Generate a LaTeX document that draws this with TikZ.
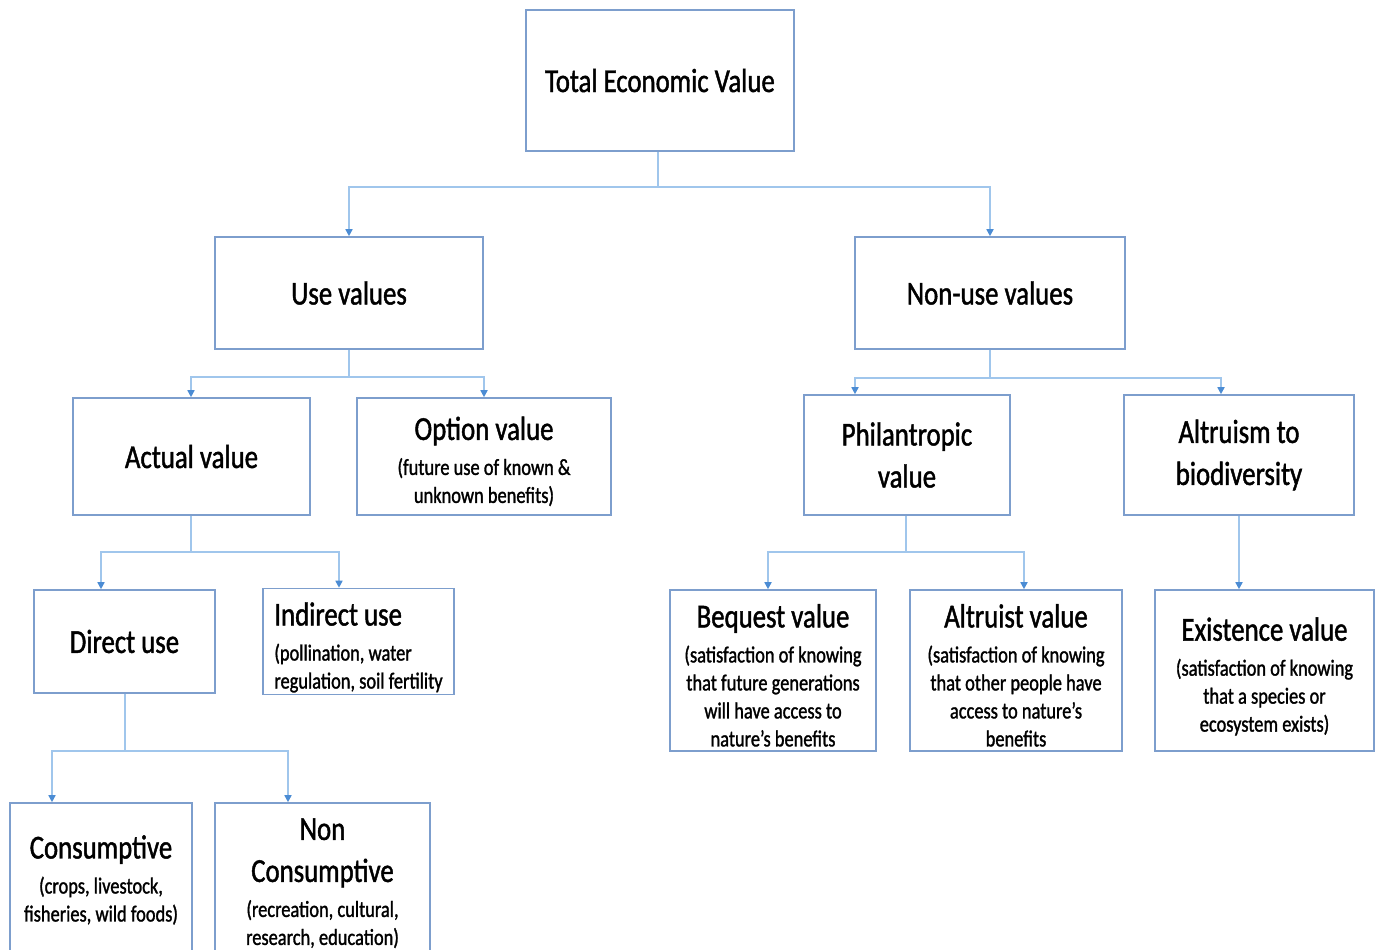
\documentclass[tikz,border=0pt]{standalone}
\usepackage{fontspec}
\setmainfont{Carlito}[FakeStretch=0.8, FakeBold=1.3]
\usetikzlibrary{arrows.meta}
\definecolor{boxc}{RGB}{125,158,205}
\definecolor{linec}{RGB}{160,198,236}
\definecolor{arrc}{RGB}{75,140,212}
\newcommand\mainf{\fontsize{33.5}{42}\selectfont}
\newcommand\subf{\fontsize{23}{28}\selectfont}
\newcommand\tsh[1]{\rule{0pt}{#1pt}}
\begin{document}
\begin{tikzpicture}[x=1pt,y=-1pt,
  box/.style={draw=boxc, line width=1.6pt, fill=white, align=center, inner sep=2pt, font=\mainf, text=black},
  conn/.style={draw=linec, line width=1.6pt},
  arr/.style={draw=linec, line width=1.6pt, -{Triangle[width=7pt,length=7pt,color=arrc]}}
]
\useasboundingbox (0,0) rectangle (1379,950);
\fill[white] (0,0) rectangle (1379,950);

% boxes
\node[box, minimum width=268, minimum height=141] (tev) at (660,80.5) {Total Economic Value};
\node[box, minimum width=268, minimum height=112] (use) at (349,293) {Use values};
\node[box, minimum width=270, minimum height=112] (non) at (990,293) {Non-use values};
\node[box, minimum width=237, minimum height=117] (act) at (191.5,456.5) {Actual value};
\node[box, minimum width=254, minimum height=117] (opt) at (484,456.5) {\tsh{33}Option value\\[-7pt]{\subf (future use of known \&}\\[-14pt]{\subf unknown benefits)}};
\node[box, minimum width=206, minimum height=120] (phil) at (907,455) {Philantropic\\value};
\node[box, minimum width=230, minimum height=120] (altb) at (1239,455) {Altruism to\\biodiversity};
\node[box, minimum width=181, minimum height=103] (dir) at (124.5,641.5) {Direct use};
\node[box, minimum width=191, minimum height=103, align=left] (ind) at (358.5,641.5) {\tsh{35}Indirect use\\[-7pt]{\subf (pollination, water}\\[-14pt]{\subf regulation, soil fertility}};
\node[box, minimum width=206, minimum height=161] (beq) at (773,670.5) {\tsh{33}Bequest value\\[-7pt]{\subf (satisfaction of knowing}\\[-14pt]{\subf that future generations}\\[-14pt]{\subf will have access to}\\[-14pt]{\subf nature’s benefits}};
\node[box, minimum width=212, minimum height=161] (alt) at (1016,670.5) {\tsh{33}Altruist value\\[-7pt]{\subf (satisfaction of knowing}\\[-14pt]{\subf that other people have}\\[-14pt]{\subf access to nature’s}\\[-14pt]{\subf benefits}};
\node[box, minimum width=219, minimum height=161] (ex) at (1264.5,670.5) {\tsh{35}Existence value\\[-7pt]{\subf (satisfaction of knowing}\\[-14pt]{\subf that a species or}\\[-14pt]{\subf ecosystem exists)}};
\node[box, minimum width=182, minimum height=154] (cons) at (101,880) {Consumptive\\[-7pt]{\subf (crops, livestock,}\\[-14pt]{\subf fisheries, wild foods)}};
\node[box, minimum width=215, minimum height=154] (ncons) at (322.5,880) {\tsh{28}Non\\Consumptive\\[-7pt]{\subf (recreation, cultural,}\\[-14pt]{\subf research, education)}};

% junctions
\coordinate (j1) at (658,187);
\coordinate (j2) at (349,377);
\coordinate (j3) at (990,378);
\coordinate (j4) at (191,552);
\coordinate (j5) at (906,552);
\coordinate (j6) at (125,751);
\coordinate (x855) at (855,0);
\coordinate (x1221) at (1221,0);
\coordinate (x101) at (101,0);
\coordinate (x339) at (339,0);
\coordinate (x768) at (768,0);
\coordinate (x1024) at (1024,0);
\coordinate (x1239) at (1239,0);
\coordinate (x52) at (52,0);
\coordinate (x288) at (288,0);

% connectors
\draw[conn] (tev.south -| j1) -- (j1);
\draw[arr] (j1) -| (use.north);
\draw[arr] (j1) -| (non.north);

\draw[conn] (use.south) -- (j2);
\draw[arr] (j2) -| (act.north -| j4);
\draw[arr] (j2) -| (opt.north);

\draw[conn] (non.south) -- (j3);
\draw[arr] (j3) -| (phil.north -| x855);
\draw[arr] (j3) -| (altb.north -| x1221);

\draw[conn] (act.south -| j4) -- (j4);
\draw[arr] (j4) -| (dir.north -| x101);
\draw[arr] (j4) -| (ind.north -| x339);

\draw[conn] (phil.south -| j5) -- (j5);
\draw[arr] (j5) -| (beq.north -| x768);
\draw[arr] (j5) -| (alt.north -| x1024);

\draw[arr] (altb.south -| x1239) -- (ex.north -| x1239);

\draw[conn] (dir.south -| j6) -- (j6);
\draw[arr] (j6) -| (cons.north -| x52);
\draw[arr] (j6) -| (ncons.north -| x288);
\end{tikzpicture}
\end{document}
